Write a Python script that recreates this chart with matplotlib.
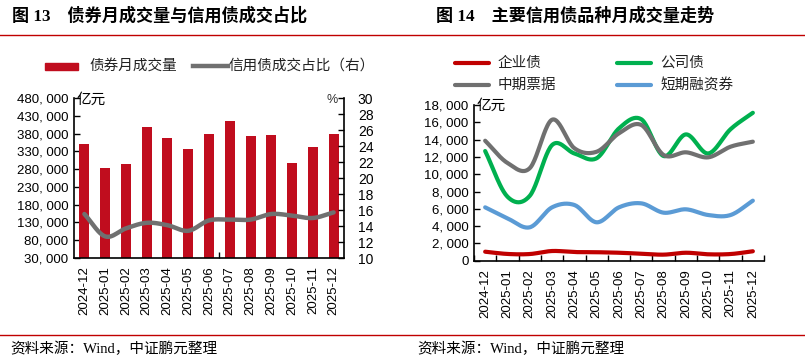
import numpy as np
import matplotlib
matplotlib.use("Agg")
import matplotlib.pyplot as plt
from matplotlib.lines import Line2D
from matplotlib.patches import Rectangle

months = ["2024-12", "2025-01", "2025-02", "2025-03", "2025-04", "2025-05", "2025-06",
          "2025-07", "2025-08", "2025-09", "2025-10", "2025-11", "2025-12"]
bond_volume = [350000, 282000, 295000, 399000, 367000, 337000, 380000,
               415000, 372000, 375000, 298000, 342000, 378000]
credit_share = [15.5, 12.7, 13.7, 14.4, 14.1, 13.4, 14.7, 14.8, 14.8, 15.5, 15.3, 15.0, 15.7]

enterprise = [1040, 780, 770, 1120, 1000, 980, 920, 810, 700, 920, 740, 770, 1090]
corporate = [12680, 7400, 7500, 13370, 12400, 11850, 15300, 16350, 12100, 14600, 12400, 15200, 17100]
mtn = [13870, 11300, 10700, 16300, 13000, 12600, 14730, 15690, 12220, 12530, 11950, 13180, 13760]
cp = [6170, 4900, 3860, 6170, 6440, 4440, 6170, 6630, 5550, 5940, 5280, 5280, 6940]

left_yticks = list(range(30000, 480001, 50000))
left_y2ticks = list(range(10, 31, 2))
right_yticks = list(range(0, 18001, 2000))

W, H = 805, 361
CJK = ['Noto Sans CJK SC', 'DejaVu Sans']
LAT = ['Liberation Sans', 'Noto Sans CJK SC']
SERIF = ['Liberation Serif', 'Noto Sans CJK SC']
RED = '#C00D1E'
GRAY = '#707070'
GREEN = '#00B04F'
BLUE = '#5B9BD5'
LRED = '#C00000'


def fx(x):
    return x / W


def fy(y):
    return 1 - y / H


def smooth(xs, ys, n=24):
    xs = np.asarray(xs, float)
    ys = np.asarray(ys, float)
    P = np.column_stack([xs, ys])
    P = np.vstack([2 * P[0] - P[1], P, 2 * P[-1] - P[-2]])
    out = []
    t = np.linspace(0, 1, n, endpoint=False)[:, None]
    for i in range(1, len(P) - 2):
        p0, p1, p2, p3 = P[i - 1], P[i], P[i + 1], P[i + 2]
        seg = 0.5 * ((2 * p1) + (-p0 + p2) * t + (2 * p0 - 5 * p1 + 4 * p2 - p3) * t ** 2
                     + (-p0 + 3 * p1 - 3 * p2 + p3) * t ** 3)
        out.append(seg)
    out.append(P[-2][None, :])
    A = np.vstack(out)
    return A[:, 0], A[:, 1]


def fmt(v):
    return '{:,}'.format(v).replace(',', ', ')


plt.rcParams['font.family'] = LAT
fig = plt.figure(figsize=(W / 100, H / 100), dpi=100)
fig.patch.set_facecolor('white')

x = np.arange(len(months))

# ---------- Left chart ----------
ax1 = fig.add_axes([fx(74), fy(258), fx(344 - 74), (258 - 98) / H])
ax1.bar(x, bond_volume, width=0.48, color=RED, zorder=2)
ax1.set_xlim(-0.5, len(months) - 0.5)
ax1.set_ylim(30000, 480000)
ax1.set_yticks(left_yticks)
ax1.set_yticklabels([fmt(v) for v in left_yticks], fontsize=9.5, family=LAT)
ax1.set_xticks(x)
ax1.set_xticklabels(months, rotation=90, fontsize=9.5, family=LAT)
ax1.tick_params(axis='x', length=0, pad=6)
ax1.set_xticks([6.5], minor=True)
ax1.tick_params(axis='x', which='minor', direction='in', length=4, width=1)
ax1.tick_params(axis='y', direction='in', length=4, width=1, pad=4)
ax1.spines['top'].set_visible(False)
ax1.spines['right'].set_visible(False)
for s in ['left', 'bottom']:
    ax1.spines[s].set_linewidth(1.2)

ax2 = ax1.twinx()
sx, sy = smooth(x, credit_share)
ax2.plot(sx, sy, color=GRAY, lw=3.2, solid_capstyle='round', zorder=3)
ax2.set_ylim(10, 30)
ax2.set_yticks(left_y2ticks)
ax2.set_yticklabels([str(v) for v in left_y2ticks], fontsize=10, family=LAT)
ax2.tick_params(axis='y', direction='in', length=4, width=1, pad=10)
ax2.spines['top'].set_visible(False)
ax2.spines['left'].set_visible(False)
ax2.spines['bottom'].set_visible(False)
ax2.spines['right'].set_linewidth(1.2)

fig.text(fx(77), fy(100), '亿元', fontsize=10.5, family=CJK, ha='left', va='center')
fig.text(fx(338), fy(100), '%', fontsize=9, family=LAT, ha='right', va='center', color='#333333')

# ---------- Right chart ----------
ax3 = fig.add_axes([fx(474), fy(260.7), fx(764 - 474), (260.7 - 105) / H])
for vals, col in [(enterprise, LRED), (cp, BLUE), (corporate, GREEN), (mtn, GRAY)]:
    sx, sy = smooth(x, vals)
    ax3.plot(sx, sy, color=col, lw=3.0, solid_capstyle='round')
ax3.set_xlim(-0.5, len(months) - 0.5)
ax3.set_ylim(0, 18000)
ax3.set_yticks(right_yticks)
ax3.set_yticklabels([fmt(v) for v in right_yticks], fontsize=9.5, family=LAT)
ax3.set_xticks(x)
ax3.set_xticklabels(months, rotation=90, fontsize=9.5, family=LAT)
ax3.tick_params(axis='x', length=0, pad=6)
ax3.set_xticks(np.arange(-0.5, len(months), 1.0), minor=True)
ax3.tick_params(axis='x', which='minor', direction='in', length=4, width=1)
ax3.tick_params(axis='y', direction='in', length=4, width=1, pad=4)
ax3.spines['top'].set_visible(False)
ax3.spines['right'].set_visible(False)
for s in ['left', 'bottom']:
    ax3.spines[s].set_linewidth(1.2)
fig.text(fx(477), fy(106), '亿元', fontsize=10.5, family=CJK, ha='left', va='center')

# ---------- Titles & rules ----------
fig.text(fx(12), fy(16), '图 13    债券月成交量与信用债成交占比', fontsize=12.3,
         fontweight='bold', family=SERIF, ha='left', va='center')
fig.text(fx(436), fy(16), '图 14    主要信用债品种月成交量走势', fontsize=12.3,
         fontweight='bold', family=SERIF, ha='left', va='center')
for y in [35, 335]:
    fig.add_artist(Line2D([0, 1], [fy(y), fy(y)], color=LRED, lw=1.0, transform=fig.transFigure))
fig.text(fx(10), fy(349), '资料来源：Wind，中证鹏元整理', fontsize=10.5, family=SERIF,
         ha='left', va='center')
fig.text(fx(417), fy(349), '资料来源：Wind，中证鹏元整理', fontsize=10.5, family=SERIF,
         ha='left', va='center')

# ---------- Legends ----------
fig.add_artist(Rectangle((fx(45), fy(70)), fx(33), 7 / H, color=RED, transform=fig.transFigure))
fig.text(fx(89), fy(66), '债券月成交量', fontsize=10.5, family=CJK, ha='left', va='center', color='#222222')
fig.add_artist(Line2D([fx(193), fx(228)], [fy(66), fy(66)], color=GRAY, lw=3.2, transform=fig.transFigure))
fig.text(fx(228), fy(66), '信用债成交占比（右）', fontsize=10.5, family=CJK, ha='left', va='center', color='#222222')

for (x0, y0, col, label) in [(455, 63, LRED, '企业债'), (617, 63, GREEN, '公司债'),
                             (455, 85, GRAY, '中期票据'), (617, 85, BLUE, '短期融资券')]:
    fig.add_artist(Line2D([fx(x0), fx(x0 + 34)], [fy(y0), fy(y0)], color=col, lw=3.0,
                          solid_capstyle='round', transform=fig.transFigure))
    fig.text(fx(x0 + 43), fy(y0), label, fontsize=10.5, family=CJK, ha='left', va='center', color='#222222')

fig.savefig('out.png', dpi=100, facecolor='white')
